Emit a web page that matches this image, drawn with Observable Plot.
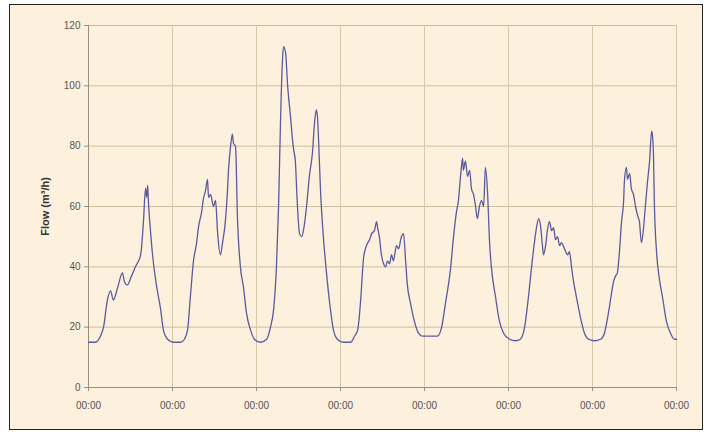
<!DOCTYPE html>
<html>
<head>
<meta charset="utf-8">
<script src="https://cdn.jsdelivr.net/npm/d3@7"></script>
<script src="https://cdn.jsdelivr.net/npm/@observablehq/plot@0.6"></script>
<style>
  html, body { margin: 0; padding: 0; background: #ffffff; }
  #wrap { position: relative; width: 706px; height: 434px; overflow: hidden; }
  #panel { position: absolute; left: 9px; top: 4px; width: 692px; height: 424px;
           border: 1.5px solid #222; background: #fdf0dc; }
  #chart { position: absolute; left: 0; top: 0; }
  #chart svg { background: transparent; font-family: "Liberation Sans", Arial, sans-serif; }
  #chart g[aria-label="y-axis label"] text { font-weight: bold; font-size: 11px; fill: #333; }
</style>
</head>
<body>
<div id="wrap"><div id="panel"></div><div id="chart"></div></div>
<script>
// time in hours since start (7 days), flow in m3/h
const hours = [0,2,3.4,4.3,5.4,6.3,7.1,8.3,9.7,10.3,11.1,12.3,13.4,14.9,15.7,16.3,16.6,16.9,17.1,17.7,18.3,19.4,20.6,21.4,22.6,24.3,
  26.3,27.4,28.3,29.1,30,30.9,31.4,32.3,32.9,33.4,34,34.3,34.9,35.7,36.3,36.9,37.7,38.3,39.1,39.7,40,40.6,41.1,41.4,42,42.6,43.4,44.3,45.1,46.3,47.4,
  49.1,50.9,52,52.9,53.7,54.3,54.9,55.4,55.7,56.3,56.9,57.7,58.3,58.6,59.1,59.7,60.3,60.9,61.4,62.3,63.1,64,64.6,65.1,65.4,65.7,66.3,67.1,68,68.9,70,71.1,
  72.9,74.9,76,76.9,77.7,78.6,79.4,80.3,80.9,81.7,82.3,82.6,83.1,83.7,84.3,84.9,85.4,86,86.6,87.1,88,88.6,89.4,90,90.6,91.1,92,93.1,94.3,95.4,
  97.7,99.7,100.9,102,103.4,104.3,105.1,105.7,106.3,106.9,107.1,107.7,108.3,108.9,109.4,110,110.6,111.1,111.7,112.3,112.9,113.4,114,114.6,115.1,116.3,117.4,118.6,120.3,
  122,123.4,124.6,125.7,126.6,127.4,128,128.6,129.1,129.7,130,130.6,131.1,131.7,132.3,132.9,133.4,134,134.6,135.1,136,136.9,137.4,138,138.6,139.4,140.6,141.7,142.9,
  144.6,146.3,147.4,148.6,149.4,150,150.6,151.1,151.7,152.3,152.9,153.1,153.7,154,154.6,155.1,155.7,156.3,156.9,157.4,158,158.6,159.1,159.7,160.3,160.9,161.1,161.4,161.7,162.3,163.1,164,165.1,166.3,167.4,168];
const flow = [15,15,17,20,29,32,29,33,38,35,34,37,40,44,55,66,63,67,62,52,44,34,26,19,16,15,
  15,16,19,30,42,48,53,58,63,65,69,63,64,60,62,51,44,48,55,65,72,80,84,81,80,55,40,33,25,19,16,
  15,16,20,26,40,60,90,108,113,111,100,90,82,79,75,60,51,50,52,60,70,78,88,92,90,83,65,50,38,28,19,16,
  15,15,17,19,28,43,47,49,51,52,55,53,50,44,41,40,42,41,44,42,47,46,50,51,42,34,28,22,18,17,
  17,17,20,28,39,50,58,62,70,76,72,75,70,72,66,64,60,56,60,62,60,73,65,48,40,30,22,18,16,
  15.5,16,20,30,40,48,53,56,54,47,44,47,52,55,52,53,49,50,47,48,46,44,45,40,35,30,23,18,16,
  15.5,16,18,25,31,35,37,38,45,55,62,68,73,69,71,66,64,60,57,55,48,53,60,68,75,85,84,78,60,45,36,30,22,18,16,16];
const xTicks = [0,24,48,72,96,120,144,168];
const xTickLabels = ["00:00","00:00","00:00","00:00","00:00","00:00","00:00","00:00"];
const yTicks = [0,20,40,60,80,100,120];

const data = hours.map((h, i) => ({h, v: flow[i]}));

const chart = Plot.plot({
  width: 706,
  height: 434,
  marginLeft: 88,
  marginRight: 30,
  marginTop: 25,
  marginBottom: 47,
  style: {background: "transparent", fontSize: "10px", color: "#555"},
  x: {domain: [0, 168]},
  y: {domain: [0, 120]},
  marks: [
    Plot.gridY(yTicks, {stroke: "#cdbf9f", strokeOpacity: 1, strokeWidth: 1}),
    Plot.gridX(xTicks, {stroke: "#d6c9ab", strokeOpacity: 1, strokeWidth: 1}),
    Plot.ruleX([0], {stroke: "#9a9080"}),
    Plot.ruleY([0], {stroke: "#9a9080"}),
    Plot.axisY(yTicks, {tickSize: 4, tickPadding: 4, stroke: "#9a9080", fill: "#555",
      label: "Flow (m³/h)", labelAnchor: "center", labelArrow: "none", labelOffset: 47}),
    Plot.axisX(xTicks, {tickSize: 4, tickPadding: 10, stroke: "#9a9080", fill: "#555",
      tickFormat: (d, i) => xTickLabels[i], label: null}),
    Plot.line(data, {x: "h", y: "v", stroke: "#5a5a9e", strokeWidth: 1.3, curve: "monotone-x"})
  ]
});
document.getElementById("chart").appendChild(chart);
</script>
</body>
</html>
